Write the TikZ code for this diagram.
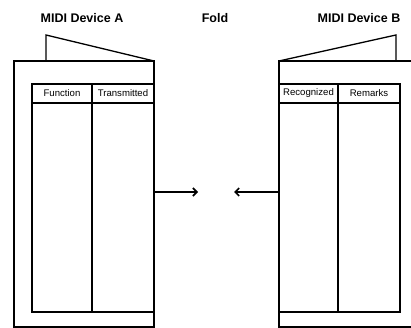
\documentclass[tikz,border=0pt]{standalone}
\usepackage{fontspec}
\setmainfont{Liberation Sans}
\usetikzlibrary{arrows.meta,positioning}
\begin{document}
\begin{tikzpicture}[x=1pt,y=-1pt,line join=miter,panel/.style={draw,line width=1.3pt,minimum width=#1,inner sep=0pt,outer sep=0pt},headcell/.style={draw,line width=1.3pt,minimum height=19pt,inner sep=0pt,outer sep=0pt,font=\fontsize{9.6}{10}\selectfont},title/.style={font=\bfseries\fontsize{12.5}{14}\selectfont},arr/.style={-{Straight Barb[length=4pt,width=8pt]},line width=1.6pt}]
\useasboundingbox (0,0) rectangle (411,328);
\node[title] (titleA) at (82,18){MIDI Device A};
\node[title] (fold) at (215,18){Fold};
\node[title] (titleB) at (359,18){MIDI Device B};
% device A
\node[panel=140pt,minimum height=266pt] (devA) at (84,194){};
\draw[line width=1.3pt] (devA.north west) ++(32,0) -- ++(0,-26) -- (devA.north east);
\node[headcell,minimum width=60pt] (func) at (62,93.5){Function};
\node[headcell,minimum width=62pt,right=0pt of func] (trans){Transmitted};
\draw[line width=1.3pt] (func.south west) -- (func.south west |- 0,312) -- (trans.south east |- 0,312);\draw[line width=1.3pt] (func.south east) -- (func.south east |- 0,312);
% device B
\node[panel=160pt,minimum height=266pt] (devB) at (359,194){};
\draw[line width=1.3pt] (devB.north west) -- (396,35) -- (396,61);
\node[headcell,minimum width=59pt] (recog) at (308.5,93.5){Recognized};
\node[headcell,minimum width=62pt,right=0pt of recog] (rem){Remarks};
\draw[line width=1.3pt] (recog.south west |- 0,312) -- (rem.south east |- 0,312) -- (rem.south east);\draw[line width=1.3pt] (recog.south east) -- (recog.south east |- 0,312);
% fold arrows
\coordinate (foldA) at (198,192);\coordinate (foldB) at (234,192);
\draw[arr] (devA.east |- foldA) -- (foldA);\draw[arr] (devB.west |- foldB) -- (foldB);
\end{tikzpicture}
\end{document}
